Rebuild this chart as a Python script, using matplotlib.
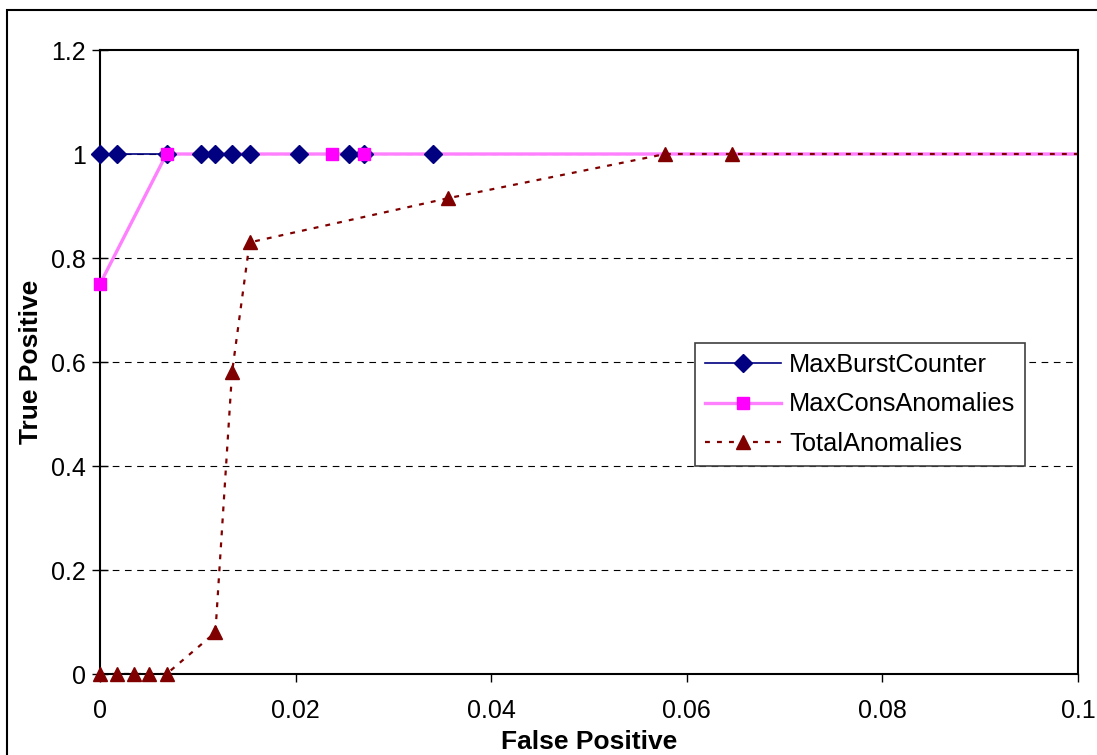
import matplotlib
matplotlib.use("Agg")
import matplotlib.pyplot as plt
from matplotlib.lines import Line2D
from matplotlib.patches import Rectangle

plt.rcParams["font.family"] = ["Liberation Sans", "DejaVu Sans"]

# ROC points (last point lies past the x-limit)
fp_burst = [0, 0.0017, 0.0068, 0.0103, 0.0118, 0.0135, 0.0153, 0.0203, 0.0255, 0.0270, 0.0340, 1.0]
tp_burst = [1, 1, 1, 1, 1, 1, 1, 1, 1, 1, 1, 1]

fp_cons = [0, 0.0068, 0.0237, 0.0270, 1.0]
tp_cons = [0.75, 1, 1, 1, 1]

fp_total = [0, 0.0017, 0.0035, 0.0050, 0.0068, 0.0118, 0.0135, 0.0153, 0.0356, 0.0578, 0.0646, 1.0]
tp_total = [0, 0, 0, 0, 0, 0.08, 0.58, 0.83, 0.915, 1, 1, 1]

labels = ["MaxBurstCounter", "MaxConsAnomalies", "TotalAnomalies"]
x_ticks = [0, 0.02, 0.04, 0.06, 0.08, 0.1]
x_ticklabels = ["0", "0.02", "0.04", "0.06", "0.08", "0.1"]
y_ticks = [0, 0.2, 0.4, 0.6, 0.8, 1.0, 1.2]
y_ticklabels = ["0", "0.2", "0.4", "0.6", "0.8", "1", "1.2"]

NAVY = "#000080"
PINK_LINE = "#FF80FF"
MAGENTA = "#FF00FF"
DARKRED = "#800000"
DOT = (0, (2.2, 3.2))

fig = plt.figure(figsize=(10.97, 7.55), dpi=100)
ax = fig.add_axes([100 / 1097, 1 - 674 / 755, 978 / 1097, 624 / 755])

# lines first, then markers on top (Excel-like stacking)
ax.plot(fp_burst, tp_burst, color=NAVY, lw=1.2, zorder=2)
ax.plot(fp_cons, tp_cons, color=PINK_LINE, lw=2.4, zorder=2.1)
ax.plot(fp_total, tp_total, color=DARKRED, lw=1.6, ls=DOT, zorder=2.2)

# markers must not be clipped at the axes edges; drop the off-chart point
ax.plot(fp_burst[:-1], tp_burst[:-1], ls="none", marker="D", ms=9, color=NAVY,
        zorder=3, clip_on=False)
ax.plot(fp_cons[:-1], tp_cons[:-1], ls="none", marker="s", ms=8, color=MAGENTA,
        zorder=3.1, clip_on=False)
ax.plot(fp_total[:-1], tp_total[:-1], ls="none", marker="^", ms=10, color=DARKRED,
        zorder=3.2, clip_on=False)

ax.set_xlim(0, 0.1)
ax.set_ylim(0, 1.2)
ax.set_xticks(x_ticks)
ax.set_xticklabels(x_ticklabels)
ax.set_yticks(y_ticks)
ax.set_yticklabels(y_ticklabels)
ax.tick_params(axis="x", direction="out", length=6, width=1, labelsize=18, pad=12)
ax.tick_params(axis="y", direction="inout", length=12, width=1, labelsize=18, pad=4)

for y in y_ticks[1:-1]:
    ax.axhline(y, color="black", lw=0.8, ls=(0, (6, 5)), zorder=1)

for s in ax.spines.values():
    s.set_linewidth(1.5)

ax.set_xlabel("False Positive", fontsize=19, fontweight="bold", labelpad=5)
ax.set_ylabel("True Positive", fontsize=19, fontweight="bold", labelpad=6)

handles = [
    Line2D([], [], color=NAVY, lw=1.2, marker="D", ms=9),
    Line2D([], [], color=PINK_LINE, lw=2.4, marker="s", ms=8, mfc=MAGENTA, mec=MAGENTA),
    Line2D([], [], color=DARKRED, lw=1.6, ls=DOT, marker="^", ms=10),
]
leg = ax.legend(handles, labels, loc="upper left",
                bbox_to_anchor=(695 / 1097, 1 - 343 / 755), bbox_transform=fig.transFigure,
                fontsize=18.3, frameon=True, fancybox=False, framealpha=1,
                edgecolor="#404040", handlelength=3.0, handletextpad=0.3,
                labelspacing=0.6, borderpad=0.4, borderaxespad=0)
leg.get_frame().set_linewidth(1.2)

# outer chart-area border
fig.patches.append(Rectangle((7 / 1097, -0.1), 2, 1 - 10 / 755 + 0.1,
                             transform=fig.transFigure, fill=False,
                             edgecolor="black", lw=1.5))

fig.savefig("out.png", dpi=100)
